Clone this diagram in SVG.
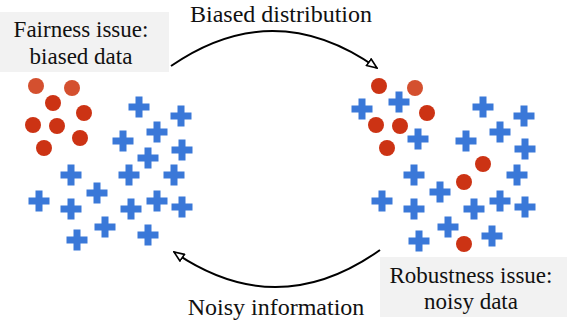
<svg xmlns="http://www.w3.org/2000/svg" width="567" height="325" viewBox="0 0 567 325">
<style>
.lbl{font-family:"Liberation Serif","Times New Roman",serif;font-size:23px;fill:#111;text-anchor:middle}
.big{font-size:24px}
.box{fill:#f2f2f2}
.r{fill:#cc3314}
.rl{fill:#d4502f}
.arc{fill:none;stroke:#000;stroke-width:2}
</style>
<defs>
<path id="p" d="M-3.5,-10.5h7v7h7v7h-7v7h-7v-7h-7v-7h7z" fill="#3a78d8"/>
<marker id="ah" viewBox="0 0 12 10" refX="11" refY="5" markerWidth="12" markerHeight="10" markerUnits="userSpaceOnUse" orient="auto">
<path d="M1,1 L11,5 L1,9 z" fill="#fff" stroke="#000" stroke-width="1.6"/>
</marker>
</defs>
<g id="fairness-label">
<rect class="box" x="0" y="12" width="169" height="60"/>
<text class="lbl" x="81" y="37">Fairness issue:</text>
<text class="lbl" x="81" y="64">biased data</text>
</g>
<g id="robustness-label">
<rect class="box" x="380" y="257" width="187" height="60"/>
<text class="lbl" x="471" y="283">Robustness issue:</text>
<text class="lbl" x="471" y="309">noisy data</text>
</g>
<g id="left-data">
<circle class="rl" cx="36" cy="86" r="8"/>
<circle class="rl" cx="72" cy="88" r="8"/>
<circle class="r" cx="53" cy="103" r="8"/>
<circle class="r" cx="84" cy="113" r="8"/>
<circle class="r" cx="33" cy="125" r="8"/>
<circle class="r" cx="57" cy="126" r="8"/>
<circle class="r" cx="80" cy="138" r="8"/>
<circle class="r" cx="44" cy="148" r="8"/>
<use href="#p" x="139" y="107"/>
<use href="#p" x="181" y="116"/>
<use href="#p" x="157" y="132"/>
<use href="#p" x="123" y="141"/>
<use href="#p" x="182" y="150"/>
<use href="#p" x="148" y="158"/>
<use href="#p" x="71" y="175"/>
<use href="#p" x="129" y="175"/>
<use href="#p" x="174" y="175"/>
<use href="#p" x="97" y="193"/>
<use href="#p" x="39" y="201"/>
<use href="#p" x="71" y="209"/>
<use href="#p" x="131" y="209"/>
<use href="#p" x="157" y="201"/>
<use href="#p" x="182" y="207"/>
<use href="#p" x="105" y="227"/>
<use href="#p" x="148" y="235"/>
<use href="#p" x="77" y="240"/>
</g>
<g id="right-data">
<circle class="r" cx="379" cy="86" r="8"/>
<circle class="rl" cx="415" cy="88" r="8"/>
<circle class="r" cx="427" cy="113" r="8"/>
<circle class="r" cx="376" cy="125" r="8"/>
<circle class="r" cx="400" cy="126" r="8"/>
<circle class="r" cx="387" cy="148" r="8"/>
<circle class="r" cx="483" cy="164" r="8"/>
<circle class="r" cx="464" cy="182" r="8"/>
<circle class="r" cx="464" cy="244" r="8"/>
<use href="#p" x="362" y="109"/>
<use href="#p" x="399" y="102"/>
<use href="#p" x="483" y="107"/>
<use href="#p" x="524" y="116"/>
<use href="#p" x="418" y="139"/>
<use href="#p" x="500" y="132"/>
<use href="#p" x="466" y="141"/>
<use href="#p" x="525" y="149"/>
<use href="#p" x="414" y="175"/>
<use href="#p" x="517" y="175"/>
<use href="#p" x="440" y="192"/>
<use href="#p" x="382" y="201"/>
<use href="#p" x="414" y="209"/>
<use href="#p" x="474" y="209"/>
<use href="#p" x="500" y="201"/>
<use href="#p" x="525" y="207"/>
<use href="#p" x="448" y="227"/>
<use href="#p" x="492" y="236"/>
<use href="#p" x="419" y="241"/>
</g>
<g id="connectors">
<path class="arc" d="M171,66 Q274,-5 377,68" marker-end="url(#ah)"/>
<path class="arc" d="M380,250 Q277,323 174,252" marker-end="url(#ah)"/>
</g>
<g id="connector-labels">
<text class="lbl big" x="281" y="22">Biased distribution</text>
<text class="lbl big" x="276" y="315">Noisy information</text>
</g>
</svg>
